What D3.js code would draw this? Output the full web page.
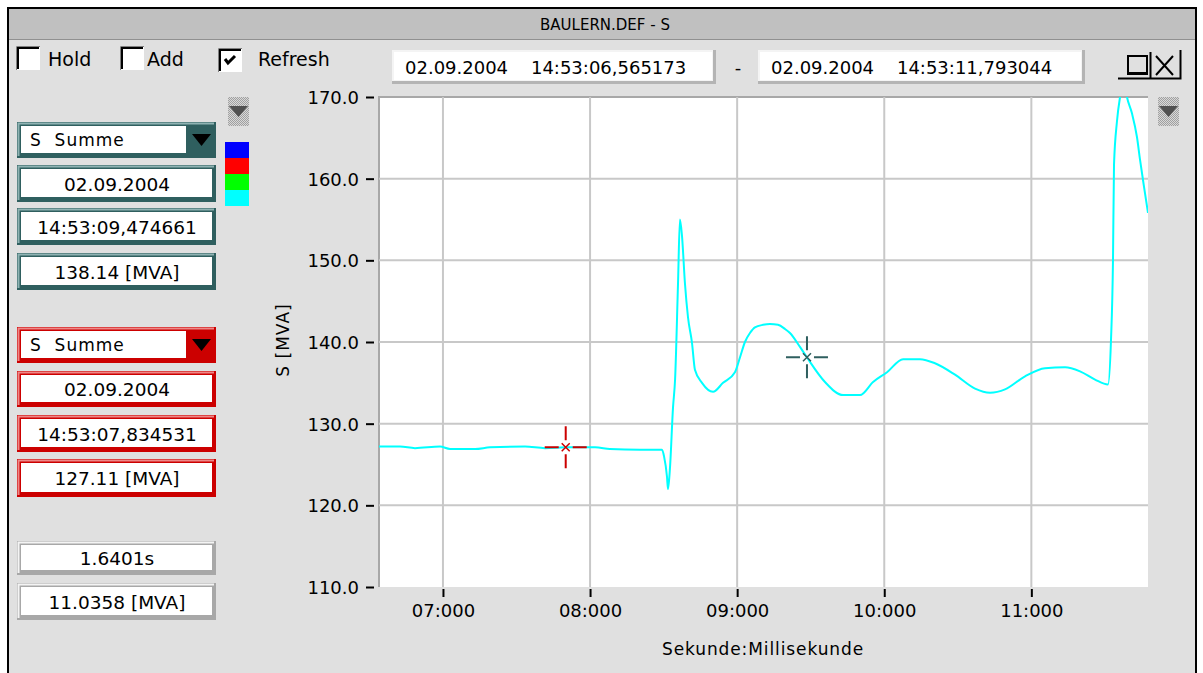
<!DOCTYPE html>
<html>
<head>
<meta charset="utf-8">
<script src="https://cdn.jsdelivr.net/npm/d3@7"></script>
<style>
  body { margin: 0; background: #ffffff; }
  svg text { font-family: "DejaVu Sans", sans-serif; fill: #000; }
</style>
</head>
<body>
<div id="chart"></div>
<script>
// Messreihe S Summe (Sekunde seit 14:53:00 -> MVA)
const TIMES = [6.565, 6.708, 6.810, 6.980, 7.048, 7.218, 7.320, 7.558, 7.694, 7.836, 8.034, 8.135, 8.339, 8.489,
  8.503, 8.523, 8.530, 8.543, 8.564, 8.578, 8.598, 8.611, 8.625, 8.645, 8.666, 8.693, 8.713, 8.761, 8.836,
  8.904, 8.985, 9.019, 9.053, 9.087, 9.121, 9.176, 9.223, 9.278, 9.325, 9.359, 9.427, 9.475, 9.597, 9.720, 9.835, 9.924, 10.019,
  10.128, 10.243, 10.345, 10.481, 10.617, 10.719, 10.821, 10.957, 11.093, 11.229, 11.331, 11.433, 11.521,
  11.541, 11.555, 11.562, 11.582, 11.603, 11.630, 11.650, 11.684, 11.718, 11.739, 11.766, 11.793];
const VALUES = [127.2, 127.2, 127.0, 127.2, 126.9, 126.9, 127.1, 127.2, 127.0, 127.1, 127.1, 126.9, 126.8, 126.8,
  126.0, 123.5, 122.0, 124.5, 132.0, 135.4, 147.2, 155.0, 153.0, 147.2, 143.0, 139.9, 136.6, 135.0, 133.9,
  135.0, 136.3, 138.1, 140.0, 141.1, 141.8, 142.1, 142.2, 142.1, 141.6, 141.1, 139.4, 138.1, 135.1, 133.5, 133.5, 135.1, 136.3,
  137.9, 137.9, 137.4, 136.0, 134.3, 133.8, 134.2, 135.8, 136.8, 136.9, 136.4, 135.4, 134.8,
  140.0, 150.0, 161.7, 167.0, 170.0, 172.0, 170.0, 168.0, 165.1, 162.3, 159.0, 155.8];

const X_DOMAIN = [6.565173, 11.793044];
const Y_DOMAIN = [110, 170];
const X_TICKS = [7, 8, 9, 10, 11];
const Y_TICKS = [110, 120, 130, 140, 150, 160, 170];
const SERIES_COLORS = ['#0000ff', '#ff0000', '#00ff00', '#00ffff'];

// Cursor 1 (dunkel) und Cursor 2 (rot)
const CURSOR_TIMES = [9.474661, 7.834531];
const CURSOR_VALUES = [138.14, 127.11];
const CURSOR_COLORS = ['#2f5f5f', '#cc0000'];
const CURSOR_LIGHT = ['#8fb3b3', '#ee8888'];
const CURSOR_TEXTS = [['02.09.2004', '14:53:09,474661', '138.14 [MVA]'], ['02.09.2004', '14:53:07,834531', '127.11 [MVA]']];
const DIFF_TEXTS = ['1.6401s', '11.0358 [MVA]'];
const RANGE_TEXTS = ['02.09.2004    14:53:06,565173', '02.09.2004    14:53:11,793044'];

const W = 1203, H = 673;
const plot = {left: 379, right: 1148, top: 97, bottom: 587};

let svg = d3.select('#chart').append('svg').attr('width', W).attr('height', H);

//Fenster
svg.append('rect').attr('x', 8).attr('y', 8).attr('width', 1188).attr('height', 680)
  .attr('fill', '#e0e0e0').attr('stroke', '#000').attr('stroke-width', 2);
svg.append('rect').attr('x', 9).attr('y', 9).attr('width', 1186).attr('height', 30).attr('fill', '#c0c0c0');
svg.append('line').attr('x1', 9).attr('x2', 1195).attr('y1', 39.5).attr('y2', 39.5).attr('stroke', '#909090');
svg.append('text').attr('x', 605).attr('y', 30).attr('text-anchor', 'middle').style('font-size', '15px')
  .text('BAULERN.DEF - S');

//Checkboxen
function checkbox(x, y, checked) {
  svg.append('rect').attr('x', x).attr('y', y).attr('width', 24).attr('height', 24).attr('fill', '#fff');
  svg.append('path').attr('d', `M${x + 0.5},${y + 24} V${y + 0.5} H${x + 24}`).attr('fill', 'none').attr('stroke', '#808080');
  svg.append('path').attr('d', `M${x + 2},${y + 23} V${y + 2} H${x + 23}`).attr('fill', 'none').attr('stroke', '#000').attr('stroke-width', 2);
  if (checked) {
    svg.append('path').attr('d', `M${x + 7},${y + 11} L${x + 10},${y + 15} L${x + 17},${y + 8}`)
      .attr('fill', 'none').attr('stroke', '#000').attr('stroke-width', 3);
  }
}
checkbox(16, 46, false);
checkbox(120, 46, false);
checkbox(218, 48, true);
[['Hold', 48], ['Add', 147], ['Refresh', 258]].forEach(function(d) {
  svg.append('text').attr('x', d[1]).attr('y', 66).style('font-size', '19px').text(d[0]);
});

//Zeitbereich
function rangeBox(x, y, w, h, txt) {
  svg.append('rect').attr('x', x).attr('y', y).attr('width', w).attr('height', h).attr('fill', '#b4b4b4');
  svg.append('rect').attr('x', x).attr('y', y).attr('width', w - 3).attr('height', h - 3).attr('fill', '#f4f4f4');
  svg.append('rect').attr('x', x + 2).attr('y', y + 2).attr('width', w - 6).attr('height', h - 6).attr('fill', '#fff');
  svg.append('text').attr('x', x + 13).attr('y', y + 24).style('font-size', '18px').style('white-space', 'pre')
    .attr('xml:space', 'preserve').text(txt);
}
rangeBox(392, 50, 324, 34, RANGE_TEXTS[0]);
rangeBox(758, 50, 327, 34, RANGE_TEXTS[1]);
svg.append('text').attr('x', 738).attr('y', 74).attr('text-anchor', 'middle').style('font-size', '18px').text('-');

//Knöpfe
svg.append('rect').attr('x', 1118).attr('y', 50).attr('width', 62).attr('height', 29).attr('fill', '#e0e0e0');
svg.append('path').attr('d', 'M1118,78.5 H1180.5 V50').attr('fill', 'none').attr('stroke', '#000').attr('stroke-width', 2);
svg.append('rect').attr('x', 1128).attr('y', 56).attr('width', 19).attr('height', 18).attr('fill', 'none').attr('stroke', '#000').attr('stroke-width', 2);
svg.append('path').attr('d', 'M1128,73 H1147').attr('stroke', '#000').attr('stroke-width', 2);
svg.append('line').attr('x1', 1150.5).attr('x2', 1150.5).attr('y1', 52).attr('y2', 78).attr('stroke', '#000').attr('stroke-width', 2);
svg.append('path').attr('d', 'M1156,56 L1173,75 M1173,56 L1156,75').attr('stroke', '#000').attr('stroke-width', 2);

//Scroll-Symbole
let defs = svg.append('defs');
let pat = defs.append('pattern').attr('id', 'dither').attr('width', 2).attr('height', 2).attr('patternUnits', 'userSpaceOnUse');
pat.append('rect').attr('width', 2).attr('height', 2).attr('fill', '#d8d8d8');
pat.append('rect').attr('width', 1).attr('height', 1).attr('fill', '#a0a0a0');
pat.append('rect').attr('x', 1).attr('y', 1).attr('width', 1).attr('height', 1).attr('fill', '#a0a0a0');
function scrollIcon(x, y) {
  svg.append('rect').attr('x', x).attr('y', y).attr('width', 21).attr('height', 29).attr('fill', 'url(#dither)');
  svg.append('path').attr('d', `M${x + 1},${y + 9} L${x + 20},${y + 9} L${x + 10.5},${y + 20} Z`).attr('fill', '#505050');
}
scrollIcon(228, 97);
scrollIcon(1158, 97);

//Farblegende
svg.selectAll('.swatch').data(SERIES_COLORS).enter().append('rect')
  .attr('x', 225).attr('y', function(d, i) { return 142 + i * 16; })
  .attr('width', 24).attr('height', 16).attr('fill', function(d) { return d; });

//Cursor-Felder links
function panelBox(y, h, dark, light, txt, combo) {
  svg.append('rect').attr('x', 17).attr('y', y).attr('width', 199).attr('height', h).attr('fill', dark);
  svg.append('path').attr('d', `M18.5,${y + h - 2} V${y + 1.5} H${214}`).attr('fill', 'none').attr('stroke', light).attr('stroke-width', 2);
  let innerW = combo ? 165 : 191;
  svg.append('rect').attr('x', 21).attr('y', y + 4).attr('width', innerW).attr('height', h - 9).attr('fill', '#fff');
  if (combo) {
    svg.append('path').attr('d', `M192,${y + 12} L211,${y + 12} L201.5,${y + 24} Z`).attr('fill', '#000');
    svg.append('text').attr('x', 30).attr('y', y + 24).style('font-size', '17px').style('letter-spacing', '1px')
      .attr('xml:space', 'preserve').text(txt);
  } else {
    svg.append('text').attr('x', 117).attr('y', y + h / 2 + 7).attr('text-anchor', 'middle').style('font-size', '18.5px').text(txt);
  }
}
let boxRows = [[[122, 36], [165, 37], [208, 37], [253, 37]], [[327, 36], [371, 36], [415, 37], [459, 38]]];
[0, 1].forEach(function(c) {
  let rows = boxRows[c];
  panelBox(rows[0][0], rows[0][1], CURSOR_COLORS[c], CURSOR_LIGHT[c], 'S  Summe', true);
  for (let i = 1; i < 4; i++) {
    panelBox(rows[i][0], rows[i][1], CURSOR_COLORS[c], CURSOR_LIGHT[c], CURSOR_TEXTS[c][i - 1], false);
  }
});
panelBox(541, 34, '#a8a8a8', '#f4f4f4', DIFF_TEXTS[0], false);
panelBox(583, 37, '#a8a8a8', '#f4f4f4', DIFF_TEXTS[1], false);

//Skalen
let x = d3.scaleLinear().domain(X_DOMAIN).range([plot.left, plot.right]);
let y = d3.scaleLinear().domain(Y_DOMAIN).range([plot.bottom, plot.top]);

//Plotfläche
svg.append('rect').attr('x', plot.left).attr('y', plot.top).attr('width', plot.right - plot.left)
  .attr('height', plot.bottom - plot.top).attr('fill', '#fff');
svg.append('path').attr('d', `M${plot.left},${plot.bottom} V${plot.top} H${plot.right}`)
  .attr('fill', 'none').attr('stroke', '#a8a8a8').attr('stroke-width', 2);

//Gitter
svg.append('g').selectAll('line').data(Y_TICKS.filter(function(d) { return d > Y_DOMAIN[0] && d < Y_DOMAIN[1]; }))
  .enter().append('line')
  .attr('x1', plot.left).attr('x2', plot.right)
  .attr('y1', function(d) { return y(d); }).attr('y2', function(d) { return y(d); })
  .attr('stroke', '#c8c8c8').attr('stroke-width', 2);
svg.append('g').selectAll('line').data(X_TICKS).enter().append('line')
  .attr('x1', function(d) { return x(d); }).attr('x2', function(d) { return x(d); })
  .attr('y1', plot.top).attr('y2', plot.bottom)
  .attr('stroke', '#c8c8c8').attr('stroke-width', 2);

//Achsen
let yAxis = svg.append('g').attr('transform', 'translate(' + (plot.left - 5) + ',0)')
  .call(d3.axisLeft(y).tickValues(Y_TICKS).tickFormat(d3.format('.1f')).tickSize(8).tickPadding(7));
yAxis.select('.domain').remove();
yAxis.selectAll('.tick line').attr('stroke', '#000').attr('stroke-width', 2);
yAxis.selectAll('.tick text').style('font-size', '18px').attr('dy', '0.36em');

let xAxis = svg.append('g').attr('transform', 'translate(0,' + (plot.bottom + 2) + ')')
  .call(d3.axisBottom(x).tickValues(X_TICKS).tickFormat(function(d) { return d3.format('02d')(d) + ':000'; })
    .tickSize(8).tickPadding(7));
xAxis.select('.domain').remove();
xAxis.selectAll('.tick line').attr('stroke', '#000').attr('stroke-width', 2);
xAxis.selectAll('.tick text').style('font-size', '18px');

svg.append('text').attr('x', 763).attr('y', 655).attr('text-anchor', 'middle').style('font-size', '17px')
  .style('letter-spacing', '0.9px').text('Sekunde:Millisekunde');
svg.append('text').attr('transform', 'translate(289,340) rotate(-90)').attr('text-anchor', 'middle')
  .style('font-size', '17px').style('letter-spacing', '1px').text('S [MVA]');

//Kurve
defs.append('clipPath').attr('id', 'clip').append('rect')
  .attr('x', plot.left).attr('y', plot.top).attr('width', plot.right - plot.left).attr('height', plot.bottom - plot.top);
let line = d3.line().curve(d3.curveMonotoneX)
  .x(function(d) { return x(d[0]); }).y(function(d) { return y(d[1]); });
svg.append('path').datum(TIMES.map(function(t, i) { return [t, VALUES[i]]; }))
  .attr('clip-path', 'url(#clip)').attr('d', line)
  .attr('fill', 'none').attr('stroke', SERIES_COLORS[3]).attr('stroke-width', 2).attr('stroke-linejoin', 'round');

//Cursor-Kreuze
CURSOR_TIMES.forEach(function(t, i) {
  let cx = x(t), cy = y(CURSOR_VALUES[i]);
  let g = svg.append('g').attr('stroke', CURSOR_COLORS[i]).attr('stroke-width', 2);
  g.append('path').attr('d', `M${cx - 21},${cy} H${cx - 7} M${cx + 7},${cy} H${cx + 21} M${cx},${cy - 21} V${cy - 7} M${cx},${cy + 7} V${cy + 21}`);
  g.append('path').attr('d', `M${cx - 4},${cy - 4} L${cx + 4},${cy + 4} M${cx + 4},${cy - 4} L${cx - 4},${cy + 4}`).attr('stroke-width', 1.5);
});
</script>
</body>
</html>
